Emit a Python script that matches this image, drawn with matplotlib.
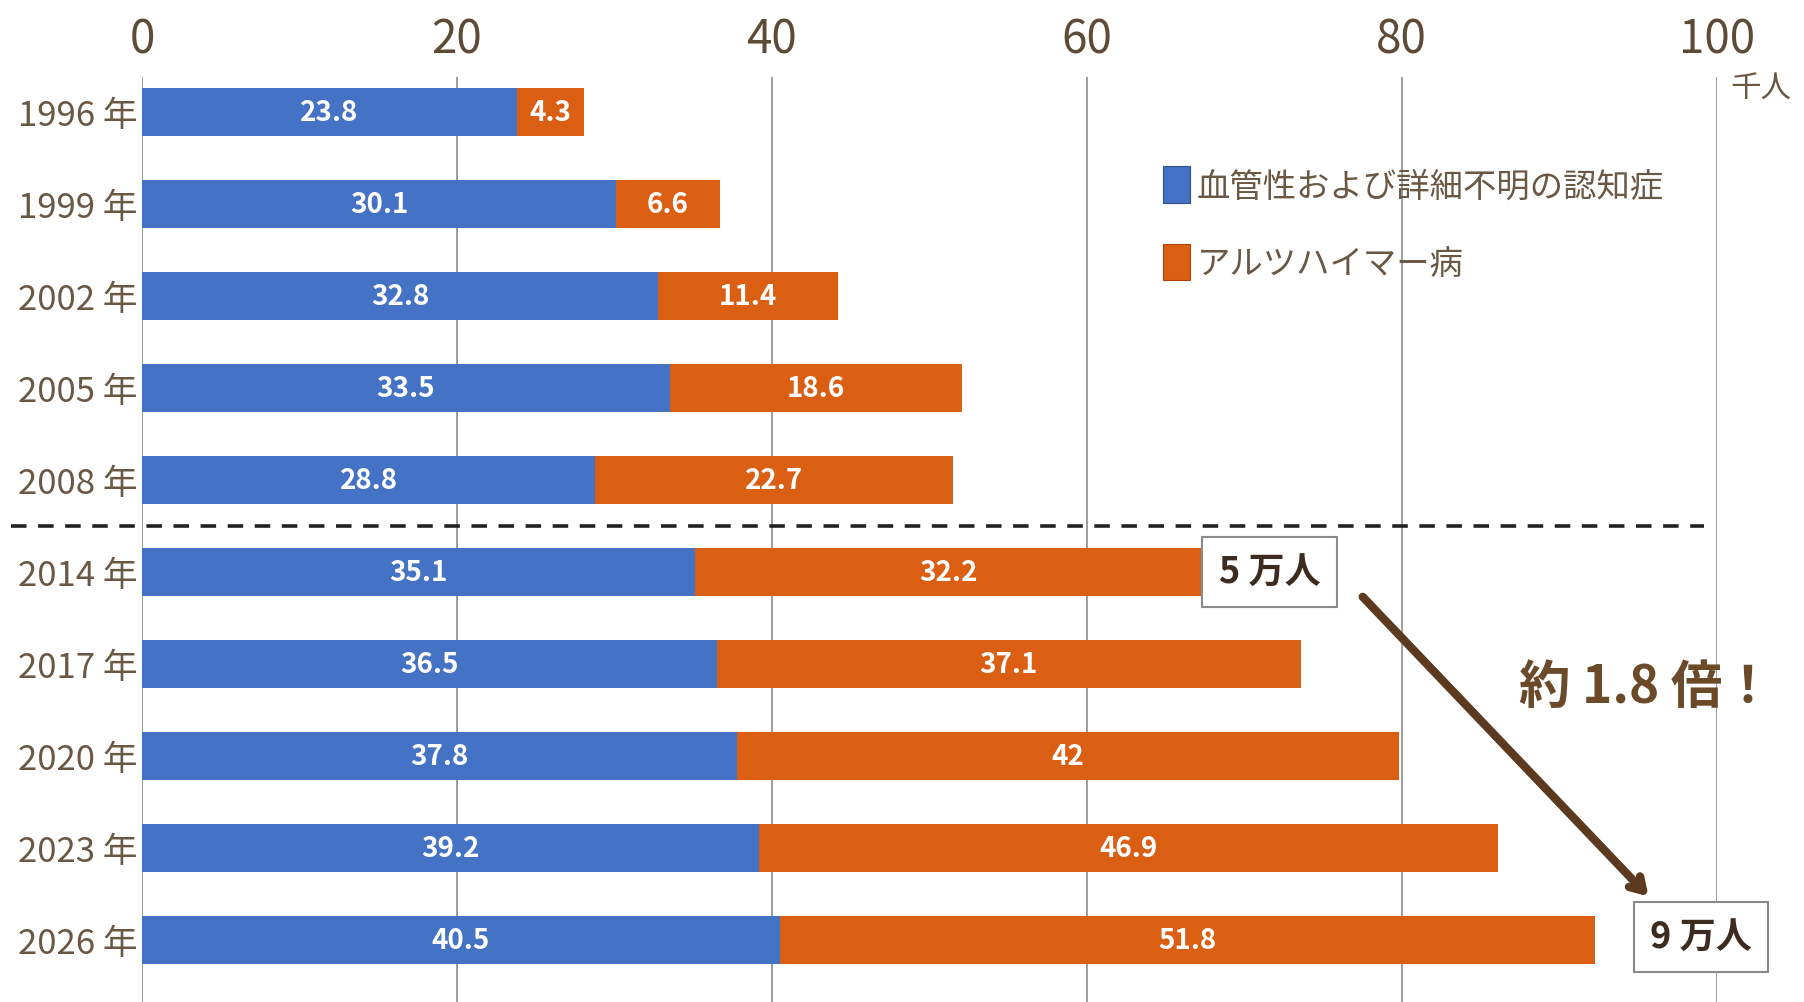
import numpy as np
import matplotlib
matplotlib.use('Agg')
import matplotlib.pyplot as plt
from matplotlib.patches import Patch

plt.rcParams['font.family'] = ['Noto Sans CJK JP', 'DejaVu Sans']

# data (thousand persons)
years = ['1996 年', '1999 年', '2002 年', '2005 年', '2008 年',
         '2014 年', '2017 年', '2020 年', '2023 年', '2026 年']
vascular = [23.8, 30.1, 32.8, 33.5, 28.8, 35.1, 36.5, 37.8, 39.2, 40.5]
alzheimer = [4.3, 6.6, 11.4, 18.6, 22.7, 32.2, 37.1, 42, 46.9, 51.8]
vascular_lbl = ['23.8', '30.1', '32.8', '33.5', '28.8', '35.1', '36.5', '37.8', '39.2', '40.5']
alzheimer_lbl = ['4.3', '6.6', '11.4', '18.6', '22.7', '32.2', '37.1', '42', '46.9', '51.8']
series_names = ['血管性および詳細不明の認知症', 'アルツハイマー病']
xticks = [0, 20, 40, 60, 80, 100]

c_blue = '#4472C4'
c_orange = '#DA5F13'
c_text = '#6a5844'
c_tick = '#5e4b35'

fig = plt.figure(figsize=(18.04, 10.03), dpi=100)
ax = fig.add_axes([0.0787, 0.0, 0.8729, 0.922])

y = np.arange(len(years))
bh = 0.52
ax.barh(y, vascular, height=bh, color=c_blue, zorder=2)
ax.barh(y, alzheimer, left=vascular, height=bh, color=c_orange, zorder=2)

for i in range(len(years)):
    ax.text(vascular[i] / 2, y[i], vascular_lbl[i], color='white', fontsize=20,
            fontweight='bold', ha='center', va='center', zorder=3)
    ax.text(vascular[i] + alzheimer[i] / 2, y[i], alzheimer_lbl[i], color='white',
            fontsize=20, fontweight='bold', ha='center', va='center', zorder=3)

ax.set_xlim(0, 100)
ax.set_ylim(9.675, -0.375)
ax.set_yticks(y)
ax.set_yticklabels(years, fontsize=25, color=c_text)
ax.tick_params(axis='y', length=0, pad=3)
ax.xaxis.tick_top()
ax.set_xticks(xticks)
ax.set_xticklabels([str(v) for v in xticks], fontsize=33, color=c_tick)
ax.tick_params(axis='x', length=0, pad=10)
for s in ax.spines.values():
    s.set_visible(False)
ax.set_axisbelow(True)
ax.grid(axis='x', color='#8c8c8c', linewidth=1.2)
ax.grid(axis='y', visible=False)

# unit
ax.text(100.9, -0.25, '千人', fontsize=22, color=c_text, ha='left', va='center')

# divider between observed and projected
ax.plot([-8.3, 99.2], [4.5, 4.5], color='#222222', lw=2.6, ls=(0, (4.3, 3.2)),
        clip_on=False, zorder=4)

# legend
handles = [Patch(facecolor=c_blue, edgecolor='#2f4f8a', lw=0.8),
           Patch(facecolor=c_orange, edgecolor='#a9440c', lw=0.8)]
leg = ax.legend(handles, series_names, loc='upper left', bbox_to_anchor=(0.64, 0.918),
                frameon=False, fontsize=24, handlelength=0.8, handleheight=1.3,
                handletextpad=0.2, labelspacing=1.2, borderaxespad=0)
for t in leg.get_texts():
    t.set_color(c_text)

# callouts
box = dict(boxstyle='square,pad=0.45', facecolor='white', edgecolor='#8a8a8a', lw=1.5)
ax.text(71.6, 5.0, '5 万人', fontsize=26, fontweight='bold', color='#3d2b1f',
        ha='center', va='center', bbox=box, zorder=5)
ax.text(99.0, 8.97, '9 万人', fontsize=26, fontweight='bold', color='#3d2b1f',
        ha='center', va='center', bbox=box, zorder=5, clip_on=False)
ax.annotate('', xy=(95.8, 8.55), xytext=(77.4, 5.25),
            arrowprops=dict(arrowstyle='->,head_length=0.9,head_width=0.55',
                            lw=6, color='#5b3a1f'), zorder=5)
ax.text(95.5, 6.25, '約 1.8 倍！', fontsize=37, fontweight='bold', color='#6b4a2a',
        ha='center', va='center', zorder=5)

fig.savefig('out.png', dpi=100)
